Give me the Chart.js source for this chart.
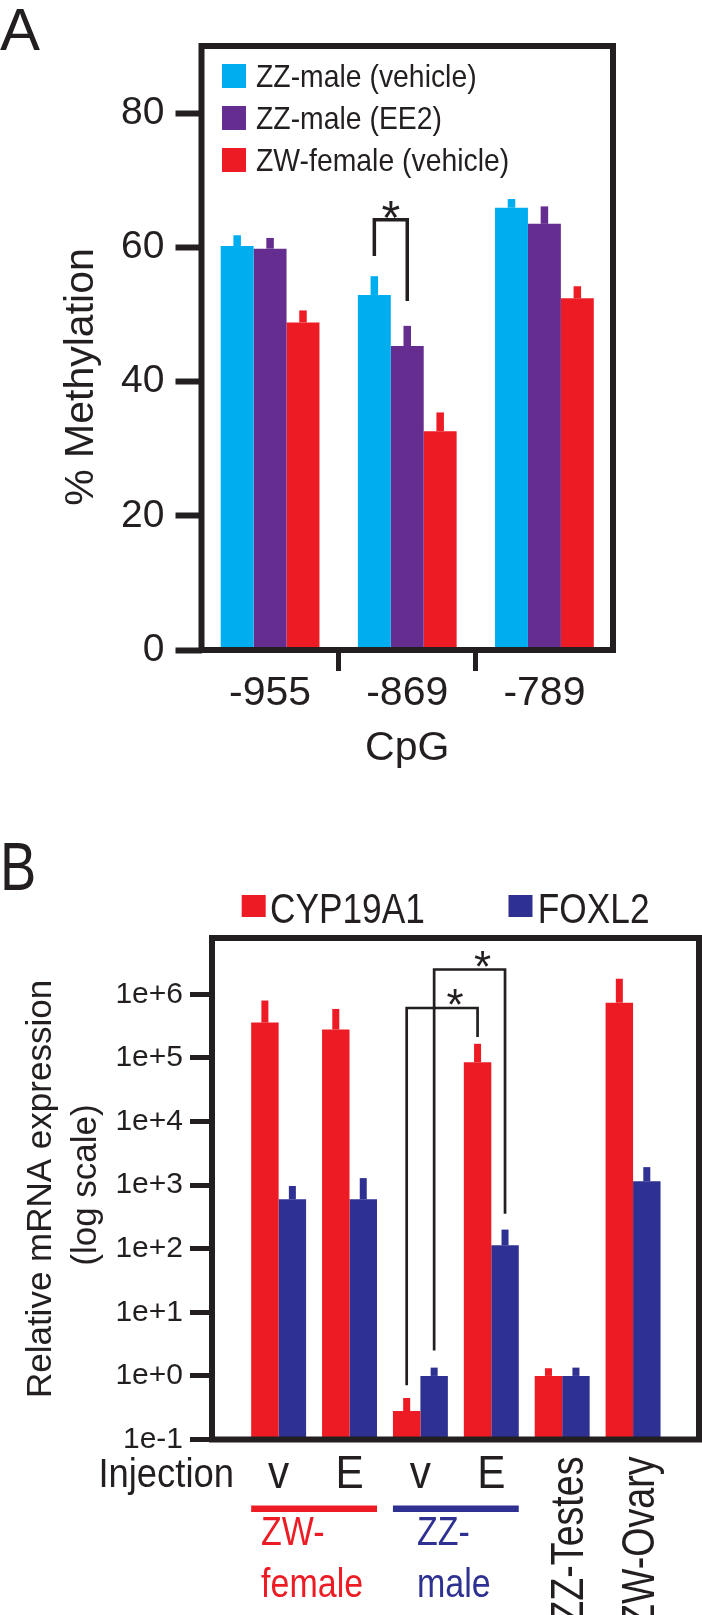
<!DOCTYPE html>
<html>
<head>
<meta charset="utf-8">
<script src="https://cdn.jsdelivr.net/npm/chart.js@4.4.1/dist/chart.umd.min.js"></script>
<style>
  html, body { margin: 0; padding: 0; background: #fff; }
  #wrap { position: relative; width: 702px; height: 1615px; overflow: hidden; }
  canvas { position: absolute; left: 0; }
  #chartA { top: 0; }
  #chartB { top: 800px; }
</style>
</head>
<body>
<div id="wrap">
  <canvas id="chartA" width="702" height="800"></canvas>
  <canvas id="chartB" width="702" height="815"></canvas>
</div>
<script>
// Panel A - % methylation per CpG site
const CPG_SITES = ['-955', '-869', '-789'];
const ZZ_VEHICLE = [60.2, 52.9, 65.9];
const ZZ_VEHICLE_SEM = [1.6, 2.8, 1.3];
const ZZ_EE2 = [59.8, 45.3, 63.5];
const ZZ_EE2_SEM = [1.6, 3.0, 2.6];
const ZW_VEHICLE = [48.8, 32.6, 52.4];
const ZW_VEHICLE_SEM = [1.8, 2.8, 1.8];
const Y_TICKS_A = [0, 20, 40, 60, 80];

// Panel B - relative mRNA expression (log scale)
const GROUPS_B = ['v', 'E', 'v', 'E', 'ZZ-Testes', 'ZW-Ovary'];
const CYP19A1 = [3.6e5, 2.8e5, 0.28, 8.6e4, 1.0, 7.4e5];
const CYP19A1_SEM = [4.4e5, 3.1e5, 0.17, 8.1e4, 0.32, 1.02e6];
const FOXL2 = [600, 600, 1.0, 113, 1.0, 1150];
const FOXL2_SEM = [370, 690, 0.35, 87, 0.35, 770];
const Y_TICKS_B = [0.1, 1, 10, 100, 1e3, 1e4, 1e5, 1e6];
const Y_TICK_LABELS_B = ['1e-1', '1e+0', '1e+1', '1e+2', '1e+3', '1e+4', '1e+5', '1e+6'];

// significance brackets: [dataset, index] pairs, levels in data units
const BRACKETS_A = [
    { from: [0, 1], to: [1, 1], level: 64.1, ends: [58.7, 52.0] }
];
const BRACKETS_B = [
    { from: [0, 2], to: [0, 3], level: 6.1e5, ends: [0.71, 2.14e5] },
    { from: [1, 2], to: [1, 3], level: 2.46e6, ends: [2.5, 354] }
];
const SEX_GROUPS = [
    { lines: ['ZW-', 'female'], color: '#ed1c24', groups: [0, 1] },
    { lines: ['ZZ-', 'male'], color: '#2e3192', groups: [2, 3] }
];

const INK = '#231f20';
const CYAN = '#00aeef';
const PURPLE = '#662d91';
const RED = '#ed1c24';
const NAVY = '#2e3192';
const FONT = "'Liberation Sans', Arial, sans-serif";

Chart.defaults.font.family = FONT;
Chart.defaults.color = INK;

function font(size) {
    return `${size}px ${FONT}`;
}

// text squeezed along its baseline (the original uses a condensed face)
function narrowText(ctx, text, x, y, sx) {
    ctx.save();
    ctx.translate(x, y);
    ctx.scale(sx, 1);
    ctx.fillText(text, 0, 0);
    ctx.restore();
}

// upper error whisker, same colour as its bar
function errorBarPlugin(width) {
    return {
        id: 'errorBars',
        afterDatasetsDraw(chart) {
            const ctx = chart.ctx;
            const y = chart.scales.y;
            chart.data.datasets.forEach((ds, di) => {
                chart.getDatasetMeta(di).data.forEach((bar, i) => {
                    const top = y.getPixelForValue(ds.means[i] + ds.sem[i]);
                    ctx.fillStyle = ds.backgroundColor;
                    ctx.fillRect(bar.x - width / 2, top, width, bar.y - top);
                });
            });
        }
    };
}

function bracketPlugin(brackets, style) {
    return {
        id: 'brackets',
        afterDatasetsDraw(chart) {
            const ctx = chart.ctx;
            const y = chart.scales.y;
            brackets.forEach(b => {
                const x1 = chart.getDatasetMeta(b.from[0]).data[b.from[1]].x;
                const x2 = chart.getDatasetMeta(b.to[0]).data[b.to[1]].x;
                const yTop = y.getPixelForValue(b.level);
                ctx.save();
                ctx.strokeStyle = INK;
                ctx.lineWidth = style.lineWidth;
                ctx.lineJoin = 'miter';
                ctx.beginPath();
                ctx.moveTo(x1, y.getPixelForValue(b.ends[0]));
                ctx.lineTo(x1, yTop);
                ctx.lineTo(x2, yTop);
                ctx.lineTo(x2, y.getPixelForValue(b.ends[1]));
                ctx.stroke();
                ctx.fillStyle = INK;
                ctx.font = font(style.starSize);
                ctx.textAlign = 'center';
                ctx.textBaseline = 'alphabetic';
                ctx.fillText('*', (x1 + x2) / 2 + style.starShift,
                    yTop - style.starGap + style.starSize * 0.57);
                ctx.restore();
            });
        }
    };
}

function framePlugin(lineWidth) {
    return {
        id: 'frame',
        afterDraw(chart) {
            const { ctx, chartArea: a } = chart;
            ctx.save();
            ctx.strokeStyle = INK;
            ctx.lineWidth = lineWidth;
            ctx.strokeRect(a.left, a.top, a.right - a.left, a.bottom - a.top);
            ctx.restore();
        }
    };
}

// panel letter, legend and y title for A
const decorA = {
    id: 'decorA',
    afterDraw(chart) {
        const ctx = chart.ctx;
        ctx.save();
        ctx.fillStyle = INK;
        ctx.textAlign = 'left';
        ctx.textBaseline = 'alphabetic';
        ctx.font = font(60);
        ctx.fillText('A', 0, 50);

        ctx.font = font(30.5);
        chart.data.datasets.forEach((ds, i) => {
            const top = 64 + i * 42;
            ctx.fillStyle = ds.backgroundColor;
            ctx.fillRect(222, top, 24, 24);
            ctx.fillStyle = INK;
            narrowText(ctx, ds.label, 256, top + 23.3, 0.93);
        });

        ctx.translate(93, 377);
        ctx.rotate(-Math.PI / 2);
        ctx.textAlign = 'center';
        ctx.font = font(41);
        ctx.fillText('% Methylation', 0, 0);
        ctx.restore();
    }
};

// panel letter, legend, y title and the grouped x labels for B
const decorB = {
    id: 'decorB',
    afterDraw(chart) {
        const ctx = chart.ctx;
        const x = chart.scales.x;
        const bottom = chart.chartArea.bottom;
        const reds = chart.getDatasetMeta(0).data;
        const blues = chart.getDatasetMeta(1).data;
        ctx.save();
        ctx.fillStyle = INK;
        ctx.textAlign = 'left';
        ctx.textBaseline = 'alphabetic';
        ctx.font = font(68);
        narrowText(ctx, 'B', 0, 90, 0.8);

        // legend
        ctx.font = font(43);
        [[241.7, 270], [508.5, 537.8]].forEach(([sx, tx], i) => {
            const ds = chart.data.datasets[i];
            ctx.fillStyle = ds.backgroundColor;
            ctx.fillRect(sx, 95, 24, 22);
            ctx.fillStyle = INK;
            narrowText(ctx, ds.label, tx, 123.3, 0.82);
        });

        // x labels
        ctx.font = font(40);
        ctx.textAlign = 'right';
        narrowText(ctx, 'Injection', 234, bottom + 47.5, 0.91);
        ctx.textAlign = 'center';
        ctx.font = font(47);
        GROUPS_B.forEach((g, i) => {
            if (g.length > 1) return;
            narrowText(ctx, g, x.getPixelForValue(i), bottom + 48.5, 0.9);
        });

        SEX_GROUPS.forEach(s => {
            const left = reds[s.groups[0]].x - reds[s.groups[0]].width / 2;
            const right = blues[s.groups[1]].x + blues[s.groups[1]].width / 2;
            ctx.fillStyle = s.color;
            ctx.fillRect(left, bottom + 66, right - left, 6.5);
            ctx.font = font(40);
            const w = ctx.measureText(s.lines[1]).width * 0.85;
            const tx = (left + right) / 2 - 2 - w / 2;
            ctx.textAlign = 'left';
            narrowText(ctx, s.lines[0], tx, bottom + 105.5, 0.85);
            narrowText(ctx, s.lines[1], tx, bottom + 157, 0.85);
        });

        ctx.fillStyle = INK;
        ctx.font = font(47);
        GROUPS_B.forEach((g, i) => {
            if (g.length === 1) return;
            ctx.save();
            ctx.translate(x.getPixelForValue(i) + 4, bottom + 17);
            ctx.rotate(-Math.PI / 2);
            ctx.scale(0.8, 1);
            ctx.textAlign = 'right';
            ctx.fillText(g, 0, 47 * 0.358);
            ctx.restore();
        });

        // y title, two lines
        ctx.font = font(35);
        ctx.textAlign = 'center';
        [['Relative mRNA expression', 51, 389], ['(log scale)', 96, 385]].forEach(([t, bx, cy]) => {
            ctx.save();
            ctx.translate(bx, cy);
            ctx.rotate(-Math.PI / 2);
            ctx.fillText(t, 0, 0);
            ctx.restore();
        });
        ctx.restore();
    }
};

new Chart(document.getElementById('chartA'), {
    type: 'bar',
    data: {
        labels: CPG_SITES,
        datasets: [
            { label: 'ZZ-male (vehicle)', data: ZZ_VEHICLE, means: ZZ_VEHICLE, sem: ZZ_VEHICLE_SEM, backgroundColor: CYAN },
            { label: 'ZZ-male (EE2)', data: ZZ_EE2, means: ZZ_EE2, sem: ZZ_EE2_SEM, backgroundColor: PURPLE },
            { label: 'ZW-female (vehicle)', data: ZW_VEHICLE, means: ZW_VEHICLE, sem: ZW_VEHICLE_SEM, backgroundColor: RED }
        ]
    },
    options: {
        responsive: false,
        animation: false,
        events: [],
        layout: { padding: { left: 0, top: 46, right: 89, bottom: 0 } },
        datasets: { bar: { categoryPercentage: 0.72, barPercentage: 1 } },
        plugins: { legend: { display: false }, tooltip: { enabled: false } },
        scales: {
            x: {
                afterFit: axis => { axis.height = 150; },
                border: { display: false },
                grid: {
                    drawOnChartArea: false,
                    offset: true,
                    tickLength: 21,
                    tickWidth: 5,
                    tickColor: c => (c.index > 0 && c.index < CPG_SITES.length) ? INK : 'rgba(0,0,0,0)'
                },
                ticks: { color: INK, padding: 2, maxRotation: 0, font: { size: 41, lineHeight: 1 } },
                title: {
                    display: true, text: 'CpG', color: INK,
                    font: { size: 41, lineHeight: 1 },
                    padding: { top: 0, bottom: 30.5 }
                }
            },
            y: {
                min: 0,
                max: 90,
                afterBuildTicks: axis => { axis.ticks = Y_TICKS_A.map(v => ({ value: v })); },
                afterFit: axis => { axis.width = 201.5; },
                border: { display: false },
                grid: { drawOnChartArea: false, tickLength: 26, tickWidth: 6, tickColor: INK },
                ticks: { color: INK, padding: 11, font: { size: 39 } }
            }
        }
    },
    plugins: [
        errorBarPlugin(7.5),
        bracketPlugin(BRACKETS_A, { lineWidth: 3.5, starSize: 48, starShift: 0, starGap: 13 }),
        framePlugin(6),
        decorA
    ]
});

new Chart(document.getElementById('chartB'), {
    type: 'bar',
    data: {
        datasets: [
            { label: 'CYP19A1', data: CYP19A1.map((v, i) => ({ x: i, y: v })), means: CYP19A1, sem: CYP19A1_SEM, backgroundColor: RED },
            { label: 'FOXL2', data: FOXL2.map((v, i) => ({ x: i, y: v })), means: FOXL2, sem: FOXL2_SEM, backgroundColor: NAVY }
        ]
    },
    options: {
        responsive: false,
        animation: false,
        events: [],
        layout: { padding: { left: 0, top: 138, right: 3, bottom: 0 } },
        datasets: { bar: { categoryPercentage: 0.775, barPercentage: 1 } },
        plugins: { legend: { display: false }, tooltip: { enabled: false } },
        scales: {
            x: {
                type: 'linear',
                offset: false,
                min: -0.94,
                max: 5.93,
                afterBuildTicks: axis => { axis.ticks = GROUPS_B.map((g, i) => ({ value: i })); },
                afterFit: axis => { axis.height = 175.5; },
                border: { display: false },
                grid: { display: false },
                ticks: { display: false }
            },
            y: {
                type: 'logarithmic',
                min: 0.1,
                max: 7.7e6,
                afterBuildTicks: axis => { axis.ticks = Y_TICKS_B.map(v => ({ value: v })); },
                afterFit: axis => { axis.width = 212; },
                border: { display: false },
                grid: { drawOnChartArea: false, tickLength: 22, tickWidth: 5, tickColor: INK },
                ticks: {
                    color: INK,
                    padding: 7,
                    font: { size: 30 },
                    callback: (v, i) => Y_TICK_LABELS_B[i]
                }
            }
        }
    },
    plugins: [
        errorBarPlugin(7),
        bracketPlugin(BRACKETS_B, { lineWidth: 2.7, starSize: 44, starShift: 13, starGap: 13 }),
        framePlugin(6),
        decorB
    ]
});
</script>
</body>
</html>
